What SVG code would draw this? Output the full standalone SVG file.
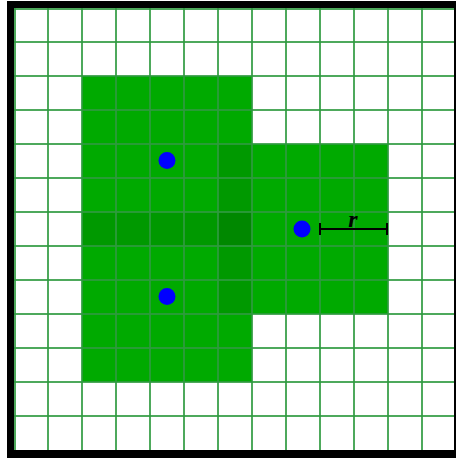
<svg xmlns="http://www.w3.org/2000/svg" width="456" height="460" viewBox="0 0 456 460">
<style>
.grid line{stroke:#2f9a40;stroke-width:2;stroke-opacity:0.85}
.dot{fill:#0000ff}
</style>
<rect x="0" y="0" width="456" height="460" fill="#ffffff"/>
<rect x="7" y="1" width="449" height="457" fill="#000000"/>
<rect x="14" y="8" width="440" height="442" fill="#ffffff"/>
<g id="squares">
<rect x="82" y="76" width="170" height="306" fill="#00aa00"/>
<rect x="252" y="144" width="136" height="170" fill="#00aa00"/>
<rect x="82" y="212" width="136" height="34" fill="#009900"/>
<rect x="218" y="144" width="34" height="170" fill="#009900"/>
<rect x="218" y="212" width="34" height="34" fill="#008800"/>
</g>
<g class="grid">
<line x1="48" y1="8" x2="48" y2="450"/><line x1="82" y1="8" x2="82" y2="450"/><line x1="116" y1="8" x2="116" y2="450"/><line x1="150" y1="8" x2="150" y2="450"/><line x1="184" y1="8" x2="184" y2="450"/><line x1="218" y1="8" x2="218" y2="450"/><line x1="252" y1="8" x2="252" y2="450"/><line x1="286" y1="8" x2="286" y2="450"/><line x1="320" y1="8" x2="320" y2="450"/><line x1="354" y1="8" x2="354" y2="450"/><line x1="388" y1="8" x2="388" y2="450"/><line x1="422" y1="8" x2="422" y2="450"/><line x1="15" y1="8" x2="15" y2="450"/>
<line x1="14" y1="9" x2="454" y2="9"/><line x1="14" y1="42" x2="454" y2="42"/><line x1="14" y1="76" x2="454" y2="76"/><line x1="14" y1="110" x2="454" y2="110"/><line x1="14" y1="144" x2="454" y2="144"/><line x1="14" y1="178" x2="454" y2="178"/><line x1="14" y1="212" x2="454" y2="212"/><line x1="14" y1="246" x2="454" y2="246"/><line x1="14" y1="280" x2="454" y2="280"/><line x1="14" y1="314" x2="454" y2="314"/><line x1="14" y1="348" x2="454" y2="348"/><line x1="14" y1="382" x2="454" y2="382"/><line x1="14" y1="416" x2="454" y2="416"/>
</g>
<g id="p1"><circle class="dot" cx="167" cy="160.5" r="8.5"/></g>
<g id="p2"><circle class="dot" cx="167" cy="296.5" r="8.5"/></g>
<g id="p3"><circle class="dot" cx="302" cy="229" r="8.5"/></g>
<g id="radius" stroke="#000" stroke-width="2" fill="none">
<line x1="320" y1="229" x2="387" y2="229"/>
<line x1="320" y1="223" x2="320" y2="235"/>
<line x1="387" y1="223" x2="387" y2="235"/>
</g>
<text x="353" y="227" font-family="Liberation Serif, serif" font-style="italic" font-weight="bold" font-size="24" text-anchor="middle" fill="#000">r</text>
</svg>
